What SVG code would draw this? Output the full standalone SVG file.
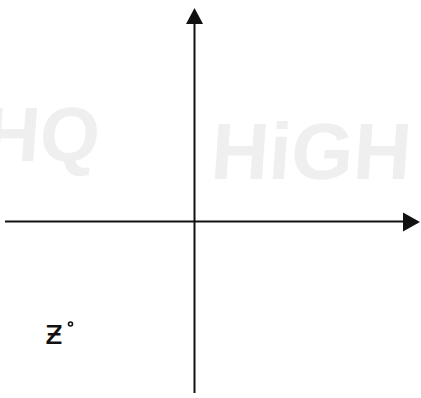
<svg xmlns="http://www.w3.org/2000/svg" width="421" height="398" viewBox="0 0 421 398">
<style>
.wm{font-family:"Liberation Sans",Arial,sans-serif;font-weight:bold;fill:#efefef}
.ax{stroke:#111;stroke-width:2;fill:none}
.lbl{font-family:"DejaVu Sans",sans-serif;fill:#111}
</style>
<rect width="421" height="398" fill="#fff"/>
<g id="watermark">
<text class="wm" x="-17" y="161" font-size="77" transform="skewX(-4) translate(11,0)">HQ</text>
<text class="wm" x="222" y="179" font-size="80" textLength="200" lengthAdjust="spacingAndGlyphs" transform="skewX(-4)">HiGH</text>
</g>
<g id="connectors">
<line class="ax" x1="194.5" y1="22" x2="194.5" y2="393"/>
<polygon points="194.5,8 186,24 203,24" fill="#111"/>
<line class="ax" x1="5" y1="221.5" x2="405" y2="221.5"/>
<polygon points="420,222 403,212.5 403,231.5" fill="#111"/>
</g>
<g id="label">
<text class="lbl" x="45" y="344" font-size="34">ƶ</text>
<circle cx="70.5" cy="324" r="2" fill="none" stroke="#111" stroke-width="1.6"/>
</g>
</svg>
